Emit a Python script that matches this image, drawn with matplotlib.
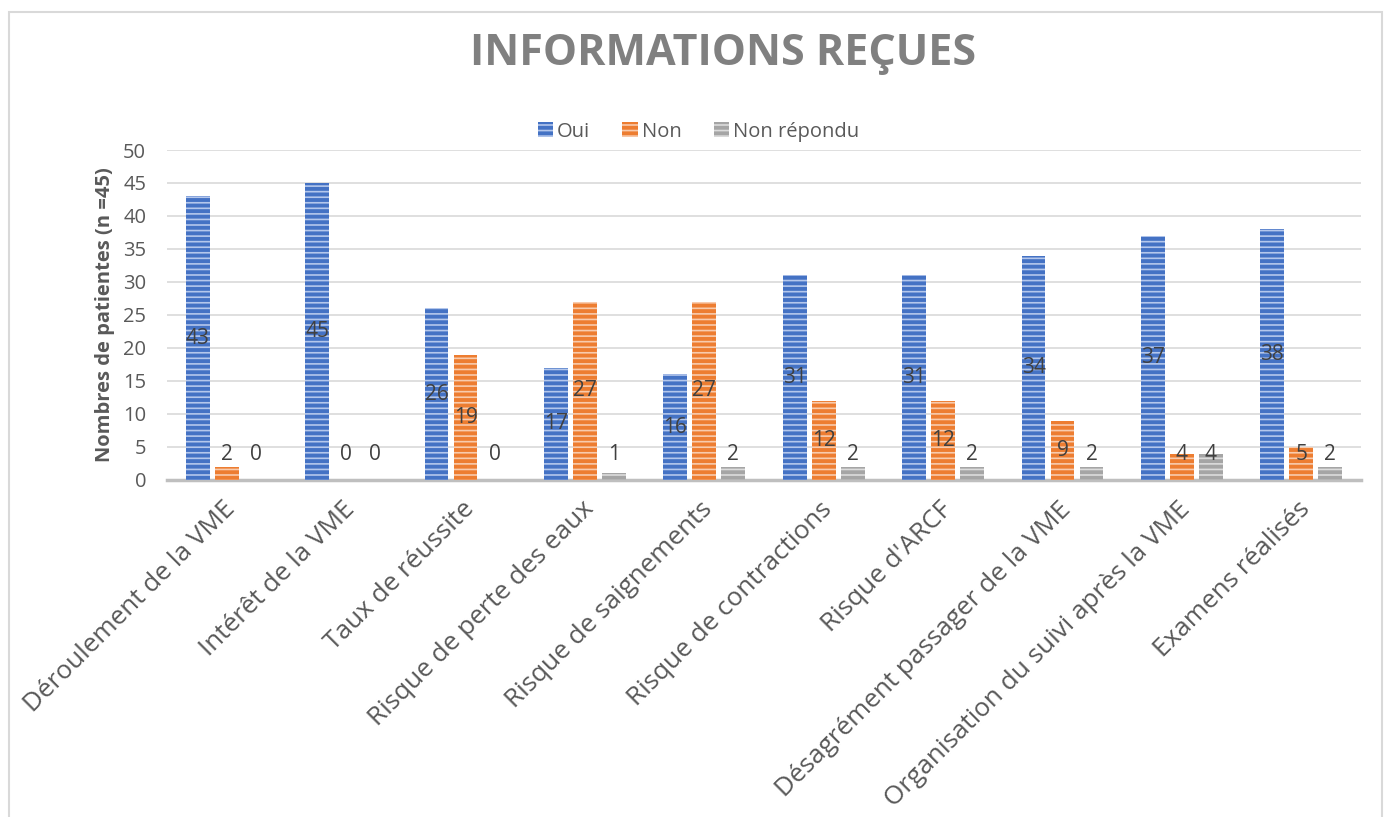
import matplotlib
matplotlib.use("Agg")
import matplotlib.pyplot as plt
import matplotlib.transforms as mtransforms
from matplotlib.patches import Rectangle
import numpy as np

plt.rcParams['font.family'] = ['Open Sans', 'DejaVu Sans']
plt.rcParams['hatch.linewidth'] = 1.2

categories = ["Déroulement de la VME", "Intérêt de la VME", "Taux de réussite",
              "Risque de perte des eaux", "Risque de saignements",
              "Risque de contractions", "Risque d'ARCF",
              "Désagrément passager de la VME",
              "Organisation du suivi après la VME", "Examens réalisés"]
oui = [43, 45, 26, 17, 16, 31, 31, 34, 37, 38]
non = [2, 0, 19, 27, 27, 12, 12, 9, 4, 5]
non_repondu = [0, 0, 0, 1, 2, 2, 2, 2, 4, 2]

series = [("Oui", oui, "#4472C4", "#B4C7EC"),
          ("Non", non, "#ED7D31", "#F8CBAD"),
          ("Non répondu", non_repondu, "#A5A5A5", "#DCDCDC")]

fig = plt.figure(figsize=(13.86, 8.17), dpi=100)
ax = fig.add_axes([0.1205, 0.4125, 0.8615, 0.4039])

x = np.arange(len(categories))
step = 0.243
width = 0.2
for i, (name, vals, col, stripe) in enumerate(series):
    pos = x + (i - 1) * step
    ax.bar(pos, vals, width, color=col, edgecolor=stripe, linewidth=0,
           hatch='---', label=name, zorder=3)
    for p, v in zip(pos, vals):
        if i == 0:
            ty = v / 2
        else:
            ty = max(v / 2, 3.8)
        ax.text(p, ty, str(v), ha='center', va='center', fontsize=15,
                color='#404040', zorder=4)

ax.set_xlim(-0.5, len(categories) - 0.5)
ax.set_ylim(0, 50)
ax.set_yticks(range(0, 51, 5))
ax.yaxis.grid(True, color='#d9d9d9', linewidth=1.2, zorder=0)
ax.set_axisbelow(True)
for s in ['top', 'right', 'left']:
    ax.spines[s].set_visible(False)
ax.spines['bottom'].set_color('#bfbfbf')
ax.spines['bottom'].set_linewidth(2.5)
ax.tick_params(axis='both', length=0, labelsize=14.5, colors='#595959')
ax.tick_params(axis='y', pad=15)
ax.set_xticks(x)
ax.set_xticklabels(categories, rotation=45, ha='right', va='top',
                   rotation_mode='anchor', fontsize=18.8, color='#595959')
ax.tick_params(axis='x', pad=12)
# nudge the slanted labels a bit to the left, like the original
shift = mtransforms.ScaledTranslation(-4 / 100, 0, fig.dpi_scale_trans)
for lab in ax.get_xticklabels():
    lab.set_transform(lab.get_transform() + shift)
ax.set_ylabel("Nombres de patientes (n =45)", fontsize=14.5, fontweight='bold',
              color='#595959', labelpad=6)

leg = ax.legend(loc='center', bbox_to_anchor=(0.445, 1.055), ncol=3,
                frameon=False, fontsize=14.5, handlelength=0.75, handleheight=0.75,
                columnspacing=1.6, handletextpad=0.2, labelcolor='#595959')

fig.text(0.522, 0.935, "INFORMATIONS REÇUES", ha='center', va='center',
         fontsize=31, fontweight='bold', color='#808080')

fig.patches.append(Rectangle((0.0065, -0.02), 0.9905, 1.005, transform=fig.transFigure,
                             fill=False, edgecolor='#d9d9d9', linewidth=1.5))

fig.savefig("out.png", dpi=100)
